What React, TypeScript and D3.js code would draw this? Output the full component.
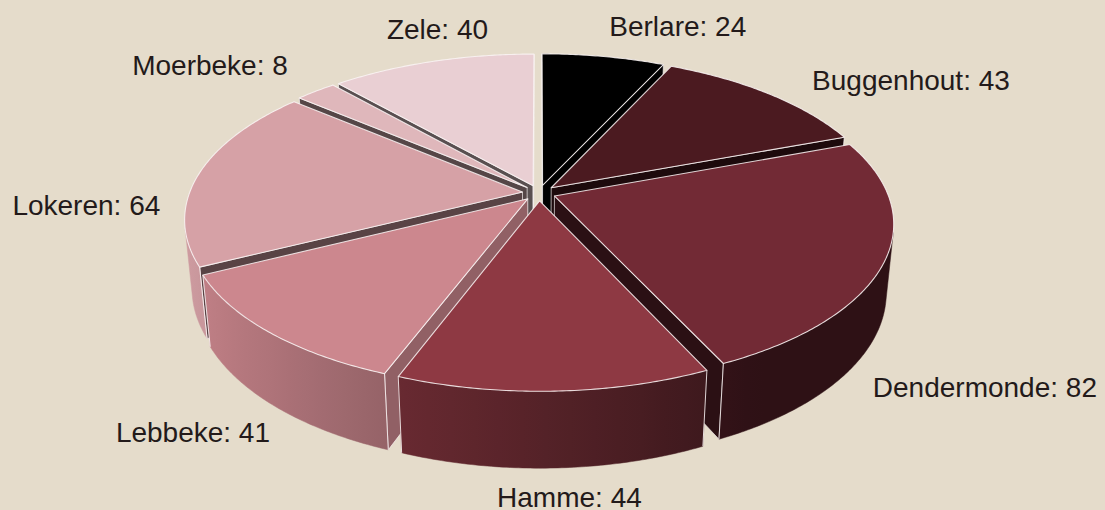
import React from 'react';
import * as d3 from 'd3';

// gemeenten en aantallen
const towns = ['Berlare', 'Buggenhout', 'Dendermonde', 'Hamme', 'Lebbeke', 'Lokeren', 'Moerbeke', 'Zele'];
const counts = [24, 43, 82, 44, 41, 64, 8, 40];
const sliceColors = ['#000000', '#4b1a20', '#722a35', '#8e3943', '#cc878e', '#d6a1a6', '#dfb7bb', '#e9cfd3'];

const W = 1105;
const H = 510;
const CX = 539;
const CY = 193;
const TILT = Math.asin(0.468);
const DIST = 5.31;
const FOCAL = 333 * DIST;
const DEPTH = 0.235;
const EXPLODE = 0.05;

// label layout (screen ellipse + small nudges)
const LBL = { cx: 560, cy: 260, rx: 480, ry: 240 };
const labelNudge = [[14, 1], [-2, -17], [-19, 36], [-8, -3], [-45, -6], [3, -27], [-6, -27], [48, -6]];

const cosT = Math.cos(TILT);
const sinT = Math.sin(TILT);
const cam = { x: 0, y: DIST * sinT, z: -DIST * cosT };

function project(x: number, y: number, z: number) {
  const yc = y * cosT + z * sinT;
  const zc = z * cosT - y * sinT;
  const k = FOCAL / (DIST + zc);
  return [CX + x * k, CY - yc * k, zc];
}

const clamp = (v: number, a: number, b: number) => Math.max(a, Math.min(b, v));
const shade = (col: string, f: number) => {
  const c = d3.rgb(col);
  return d3.rgb(c.r * f, c.g * f, c.b * f).formatHex();
};
const outerShade = (t: number) => clamp(0.6 - 0.38 * Math.sin(t), 0.4, 1);
const radialShade = (n: number) => clamp(0.42 + 0.6 * (Math.sin(n) - 0.45), 0.38, 0.85);

export default function App() {
  const pie = d3.pie<number>().sort(null).value(d => d);
  const arcs = pie(counts);

  const slices = arcs.map((a, i) => {
    const a0 = a.startAngle;
    const a1 = a.endAngle;
    const mid = (a0 + a1) / 2;
    const ox = EXPLODE * Math.sin(mid);
    const oz = EXPLODE * Math.cos(mid);
    const rim = (t: number, y: number) => project(Math.sin(t) + ox, y, Math.cos(t) + oz);
    const apex = (y: number) => project(ox, y, oz);
    const base = sliceColors[i];

    const n = Math.max(2, Math.ceil((a1 - a0) / 0.01));
    const ts = d3.range(n + 1).map(j => a0 + ((a1 - a0) * j) / n);

    // top face
    const topPts = [apex(0), ...ts.map(t => rim(t, 0))];
    const top = 'M' + topPts.map(p => `${p[0]},${p[1]}`).join('L') + 'Z';

    // outer face visibility
    const visible = (t: number) => {
      const px = Math.sin(t) + ox;
      const pz = Math.cos(t) + oz;
      return Math.sin(t) * (cam.x - px) + Math.cos(t) * (cam.z - pz) > 0;
    };
    const vis = ts.filter(visible);
    let outer: any = null;
    if (vis.length > 1) {
      const tp = vis.map(t => rim(t, 0));
      const bt = vis.map(t => rim(t, -DEPTH)).reverse();
      const d = 'M' + [...tp, ...bt].map(p => `${p[0]},${p[1]}`).join('L') + 'Z';
      const xs = tp.map(p => p[0]);
      const xmin = d3.min(xs) as number;
      const xmax = d3.max(xs) as number;
      const stops = vis
        .filter((_, j) => j % 6 === 0 || j === vis.length - 1)
        .map(t => ({ off: (rim(t, 0)[0] - xmin) / Math.max(1, xmax - xmin), col: shade(base, outerShade(t)) }))
        .sort((p, q) => p.off - q.off);
      const edges: number[][][] = [];
      if (visible(a0) && vis[0] === a0) edges.push([rim(a0, 0), rim(a0, -DEPTH)]);
      if (visible(a1) && vis[vis.length - 1] === a1) edges.push([rim(a1, 0), rim(a1, -DEPTH)]);
      outer = { d, xmin, xmax, stops, edges };
    }

    // radial faces
    const radial: { d: string; fill: string }[] = [];
    const face = (t: number, nAng: number) => {
      const nx = Math.sin(nAng);
      const nz = Math.cos(nAng);
      const px = 0.5 * Math.sin(t) + ox;
      const pz = 0.5 * Math.cos(t) + oz;
      if (nx * (cam.x - px) + nz * (cam.z - pz) <= 0) return;
      const pts = [apex(0), rim(t, 0), rim(t, -DEPTH), apex(-DEPTH)];
      radial.push({
        d: 'M' + pts.map(p => `${p[0]},${p[1]}`).join('L') + 'Z',
        fill: shade(base, radialShade(nAng)),
      });
    };
    face(a0, a0 - Math.PI / 2);
    face(a1, a1 + Math.PI / 2);

    const depth = project(0.5 * Math.sin(mid) + ox, -DEPTH / 2, 0.5 * Math.cos(mid) + oz)[2];
    return { i, top, outer, radial, depth, base, mid };
  });

  const order = [...slices].sort((p, q) => q.depth - p.depth);
  const edgeColor = 'rgba(250,244,244,0.85)';

  return (
    <svg width={W} height={H} style={{ position: 'absolute', left: 0, top: 0 }}>
      <rect width={W} height={H} fill="#e5dccb" />
      <defs>
        {slices.map(s =>
          s.outer ? (
            <linearGradient key={s.i} id={`side${s.i}`} gradientUnits="userSpaceOnUse"
              x1={s.outer.xmin} x2={s.outer.xmax} y1={0} y2={0}>
              {s.outer.stops.map((st: any, j: number) => (
                <stop key={j} offset={st.off} stopColor={st.col} />
              ))}
            </linearGradient>
          ) : null
        )}
      </defs>
      {order.map(s => (
        <g key={`sides${s.i}`}>
          {s.radial.map((r, j) => (
            <path key={j} d={r.d} fill={r.fill} stroke={edgeColor} strokeWidth={0.8} strokeLinejoin="round" />
          ))}
          {s.outer && (
            <path d={s.outer.d} fill={`url(#side${s.i})`} stroke={`url(#side${s.i})`} strokeWidth={0.5} />
          )}
          {s.outer && s.outer.edges.map((e: number[][], j: number) => (
            <line key={j} x1={e[0][0]} y1={e[0][1]} x2={e[1][0]} y2={e[1][1]} stroke={edgeColor} strokeWidth={1} />
          ))}
        </g>
      ))}
      {slices.map(s => (
        <path key={`top${s.i}`} d={s.top} fill={s.base} stroke={edgeColor} strokeWidth={1.1} strokeLinejoin="round" />
      ))}
      {slices.map(s => (
        <text key={`lbl${s.i}`}
          x={LBL.cx + LBL.rx * Math.sin(s.mid) + labelNudge[s.i][0]}
          y={LBL.cy - LBL.ry * Math.cos(s.mid) + labelNudge[s.i][1]}
          dy="0.35em" textAnchor="middle"
          fontFamily="'Liberation Sans', Arial, sans-serif" fontSize={28} fill="#231a1a">
          {`${towns[s.i]}: ${counts[s.i]}`}
        </text>
      ))}
    </svg>
  );
}
